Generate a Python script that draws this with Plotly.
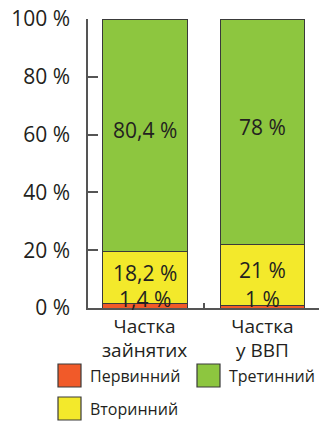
import plotly.graph_objects as go

# Sector shares, %
categories = ["Частка<br>зайнятих", "Частка<br>у ВВП"]
sectors = ["Первинний", "Вторинний", "Третинний"]
primary = [1.4, 1.0]
secondary = [18.2, 21.0]
tertiary = [80.4, 78.0]
colors = ["#f15a29", "#f3e92b", "#8dc63f"]
y_ticks = [0, 20, 40, 60, 80, 100]

series = [primary, secondary, tertiary]
x_pos = list(range(len(categories)))

W, H = 320, 422
L, R, T, B = 88, 1, 19, 114
FONT = "Open Sans"
TXT = "#231f20"
AX = "#555555"


def fmt(v):
    s = f"{v:.1f}".rstrip("0").rstrip(".")
    return s.replace(".", ",") + " %"


fig = go.Figure()
for name, vals, col in zip(sectors, series, colors):
    fig.add_trace(go.Bar(
        x=x_pos, y=vals, name=name,
        marker=dict(color=col, line=dict(color="#3a3a3a", width=1)),
        showlegend=False, hoverinfo="skip",
    ))

# value labels inside the stacked segments
label_font = dict(family=FONT, size=21, color=TXT)
annotations = []
for i in x_pos:
    base = 0.0
    for k, vals in enumerate(series):
        v = vals[i]
        if k == 0:
            annotations.append(dict(x=i, y=0, yanchor="bottom", yshift=-7,
                                    text=fmt(v), showarrow=False, font=label_font))
        else:
            annotations.append(dict(x=i, y=base + v / 2, yshift=5,
                                    text=fmt(v), showarrow=False, font=label_font))
        base += v

# legend drawn as boxes + text in paper coordinates
pw, ph = W - L - R, H - T - B


def px(x):
    return (x - L) / pw


def py(y):
    return (H - B - y) / ph


legend_items = [(0, 58, 364), (2, 197, 364), (1, 58, 397)]
shapes = []
for k, bx, by in legend_items:
    shapes.append(dict(type="rect", xref="paper", yref="paper",
                       x0=px(bx), x1=px(bx + 23), y0=py(by), y1=py(by + 23),
                       fillcolor=colors[k], line=dict(color="#3a3a3a", width=1.2)))
    annotations.append(dict(xref="paper", yref="paper", x=px(bx + 30),
                            y=py(by + 12), xanchor="left", yanchor="middle",
                            text=sectors[k], showarrow=False,
                            font=dict(family=FONT, size=16, color=TXT)))

fig.update_layout(
    width=W, height=H,
    margin=dict(l=L, r=R, t=T, b=B, pad=0),
    paper_bgcolor="white", plot_bgcolor="white",
    barmode="stack", bargap=0.28,
    font=dict(family=FONT, color=TXT),
    annotations=annotations, shapes=shapes,
    showlegend=False,
    xaxis=dict(
        range=[-0.48, 1.48], tickvals=x_pos, ticktext=categories,
        showline=True, linecolor=AX, linewidth=1.5, ticks="",
        showgrid=False, zeroline=False,
        tickfont=dict(family=FONT, size=19, color=TXT),
        minor=dict(tickmode="array", tickvals=[0.5], ticks="inside",
                   ticklen=5, tickcolor=AX, tickwidth=1.5),
        ticklabelstandoff=0,
    ),
    yaxis=dict(
        range=[0, 100], tickvals=y_ticks,
        ticktext=[f"{t} %" for t in y_ticks],
        showline=True, linecolor=AX, linewidth=1.5,
        ticks="inside", ticklen=10, tickcolor=AX, tickwidth=1.5,
        showgrid=False, zeroline=False,
        tickfont=dict(family=FONT, size=21, color=TXT),
        ticklabelstandoff=12,
    ),
)

fig.write_html("out.html")
